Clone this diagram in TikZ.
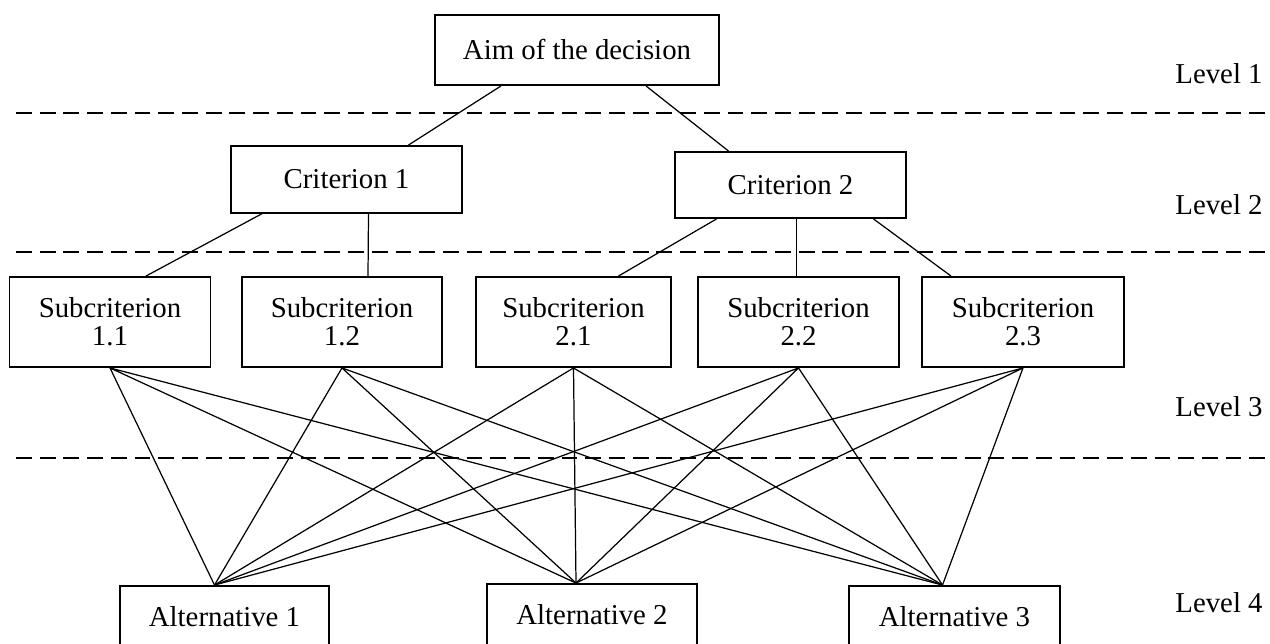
\documentclass[tikz,border=0pt]{standalone}
\usepackage{fontspec}
\setmainfont{Liberation Serif}
\usetikzlibrary{calc}

\begin{document}
\begin{tikzpicture}[
    x=0.02cm, y=-0.02cm,
    box/.style={rectangle, draw=black, line width=1.1pt, fill=white,
        inner sep=2pt, align=center, font=\fontsize{16.4}{16}\selectfont},
    edge/.style={line width=0.7pt, -},
    sepline/.style={line width=1.3pt, dash pattern=on 9pt off 4.5pt},
    lvl/.style={font=\fontsize{16.4}{16}\selectfont}
]
    \useasboundingbox (0,0) rectangle (1270,644);
    \draw[sepline] (16,113) -- (1270,113);
    \draw[sepline] (16,252) -- (1270,252);
    \draw[sepline] (16,458) -- (1270,458);

    \node[box, minimum width=5.68cm, minimum height=1.4cm] (aim) at (577,50) {Aim of the decision};
    \node[box, minimum width=4.62cm, minimum height=1.34cm] (c1) at (346.5,179.5) {Criterion 1};
    \node[box, minimum width=4.62cm, minimum height=1.32cm] (c2) at (790.5,185) {Criterion 2};
    \node[box, minimum width=4.02cm, minimum height=1.8cm] (s11) at (110,322) {Subcriterion\\1.1};
    \node[box, minimum width=4cm, minimum height=1.8cm] (s12) at (342,322) {Subcriterion\\1.2};
    \node[box, minimum width=3.9cm, minimum height=1.8cm] (s21) at (573.5,322) {Subcriterion\\2.1};
    \node[box, minimum width=4.02cm, minimum height=1.8cm] (s22) at (798.5,322) {Subcriterion\\2.2};
    \node[box, minimum width=4.04cm, minimum height=1.8cm] (s23) at (1023,322) {Subcriterion\\2.3};
    \node[box, minimum width=4.18cm, minimum height=1.24cm] (a1) at (224.5,617) {Alternative 1};
    \node[box, minimum width=4.2cm, minimum height=1.24cm] (a2) at (592,615) {Alternative 2};
    \node[box, minimum width=4.22cm, minimum height=1.24cm] (a3) at (954.5,617) {Alternative 3};

    \node[lvl] (l1) at (1219,74) {Level 1};
    \node[lvl] (l2) at (1219,205) {Level 2};
    \node[lvl] (l3) at (1219,407) {Level 3};
    \node[lvl] (l4) at (1219,603) {Level 4};

    \coordinate (j1) at ($(a1.north)+(-10,0)$);
    \coordinate (j2) at ($(a2.north)+(-16,0)$);
    \coordinate (j3) at ($(a3.north)+(-12,0)$);

    \draw[edge] ($(aim.south)+(-76,0)$) -- ($(c1.north)+(62,0)$);
    \draw[edge] ($(aim.south)+(69,0)$) -- ($(c2.north)+(-62,0)$);
    \draw[edge] ($(c1.south)+(-85,0)$) -- ($(s11.north)+(36,0)$);
    \draw[edge] ($(c1.south)+(22,0)$) -- ($(s12.north)+(26,0)$);
    \draw[edge] ($(c2.south)+(-74,0)$) -- ($(s21.north)+(45,0)$);
    \draw[edge] ($(c2.south)+(6,0)$) -- ($(s22.north)+(-2,0)$);
    \draw[edge] ($(c2.south)+(83,0)$) -- ($(s23.north)+(-72,0)$);

    \draw[edge] (s11.south) -- (j1) (s11.south) -- (j2) (s11.south) -- (j3);
    \draw[edge] (s12.south) -- (j1) (s12.south) -- (j2) (s12.south) -- (j3);
    \draw[edge] (s21.south) -- (j1) (s21.south) -- (j2) (s21.south) -- (j3);
    \draw[edge] (s22.south) -- (j1) (s22.south) -- (j2) (s22.south) -- (j3);
    \draw[edge] (s23.south) -- (j1) (s23.south) -- (j2) (s23.south) -- (j3);
\end{tikzpicture}
\end{document}
